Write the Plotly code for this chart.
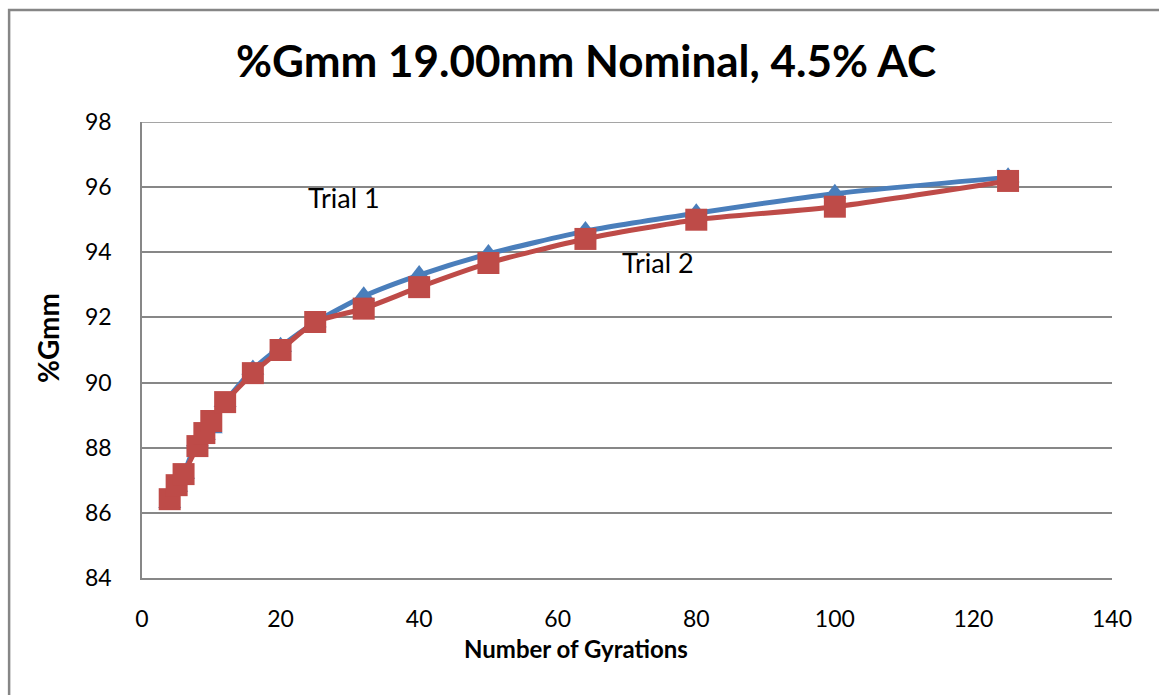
import plotly.graph_objects as go

# Gyration counts and measured %Gmm for each trial
gyrations = [4, 5, 6, 8, 9, 10, 12, 16, 20, 25, 32, 40, 50, 64, 80, 100, 125]
trial1 = [86.3, 86.8, 87.2, 88.2, 88.4, 88.6, 89.4, 90.4, 91.1, 91.85, 92.65,
          93.3, 93.95, 94.65, 95.2, 95.8, 96.3]
trial2 = [86.42, 86.85, 87.19, 88.05, 88.45, 88.82, 89.4, 90.29, 91.0, 91.86,
          92.27, 92.93, 93.67, 94.41, 95.0, 95.4, 96.19]

x_ticks = [0, 20, 40, 60, 80, 100, 120, 140]
y_ticks = [84, 86, 88, 90, 92, 94, 96, 98]

FONT = "Lato"
GRID = "#878787"
BLUE = "#4A7EBB"
RED = "#BE4B48"

fig = go.Figure()
fig.add_trace(go.Scatter(
    x=gyrations, y=trial1, mode="lines+markers", name="Trial 1",
    line=dict(color=BLUE, width=5, shape="spline", smoothing=0.6),
    marker=dict(symbol="triangle-up", size=20, color=BLUE),
))
fig.add_trace(go.Scatter(
    x=gyrations, y=trial2, mode="lines+markers", name="Trial 2",
    line=dict(color=RED, width=5, shape="spline", smoothing=0.6),
    marker=dict(symbol="square", size=22, color=RED),
))

fig.add_annotation(x=29.1, y=95.67, text="Trial 1", showarrow=False,
                   font=dict(family=FONT, size=27, color="#000000"))
fig.add_annotation(x=74.5, y=93.7, text="Trial 2", showarrow=False,
                   font=dict(family=FONT, size=27, color="#000000"))

# Axis titles placed relative to the whole chart area
fig.add_annotation(text="<b>Number of Gyrations</b>", xref="paper", yref="paper",
                   x=(576 - 142) / 970, y=(578 - 648) / 456,
                   xanchor="center", yanchor="middle", showarrow=False,
                   font=dict(family=FONT, size=24, color="#000000"))
fig.add_annotation(text="<b>%Gmm</b>", xref="paper", yref="paper", textangle=-90,
                   x=(48 - 142) / 970, y=(578 - 338) / 456,
                   xanchor="center", yanchor="middle", showarrow=False,
                   font=dict(family=FONT, size=28, color="#000000"))

# Outer chart border
fig.add_shape(type="rect", xref="paper", yref="paper",
              x0=-0.137, x1=1.2, y0=-0.4, y1=1.2456,
              line=dict(color="#868686", width=2.5), layer="below")

fig.update_layout(
    width=1159, height=695, autosize=False,
    margin=dict(l=142, r=47, t=122, b=117),
    paper_bgcolor="white", plot_bgcolor="white",
    showlegend=False,
    title=dict(text="<b>%Gmm 19.00mm Nominal, 4.5% AC</b>",
               x=586 / 1159, xref="container", xanchor="center",
               y=1 - 62 / 695, yref="container", yanchor="middle",
               font=dict(family=FONT, size=44, color="#000000")),
    font=dict(family=FONT, color="#000000"),
)

fig.update_xaxes(
    range=[0, 140], tickvals=x_ticks, ticktext=[str(v) for v in x_ticks],
    showgrid=False, zeroline=False, showline=True, linecolor=GRID, linewidth=1.5,
    ticks="", ticklen=0, ticklabelstandoff=20, tickfont=dict(family=FONT, size=23),
)
fig.update_yaxes(
    range=[84, 98], tickvals=y_ticks, ticktext=[str(v) for v in y_ticks],
    showgrid=True, gridcolor=GRID, gridwidth=1.5, zeroline=False,
    showline=True, linecolor=GRID, linewidth=1.5,
    ticks="", ticklen=0, ticklabelstandoff=24,
    tickfont=dict(family=FONT, size=23),
)

# Top gridline at the upper edge of the range
fig.add_shape(type="line", xref="paper", yref="y", x0=0, x1=1, y0=98, y1=98,
              line=dict(color=GRID, width=1.5))

fig.write_html("out.html")
